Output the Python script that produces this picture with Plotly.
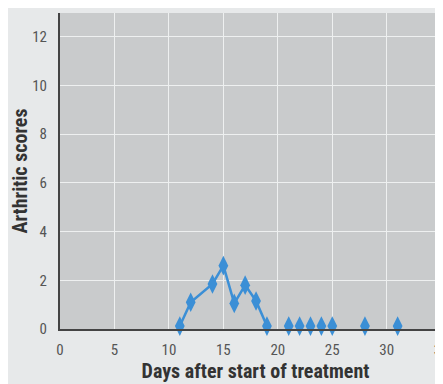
import plotly.graph_objects as go

# Data
days_line = [11, 12, 14, 15, 16, 17, 18, 19]
scores_line = [0.12, 1.1, 1.85, 2.6, 1.05, 1.8, 1.15, 0.12]
days_pts = [21, 22, 23, 24, 25, 28, 31]
scores_pts = [0.12, 0.12, 0.12, 0.12, 0.12, 0.12, 0.12]
y_ticks = [0, 2, 4, 6, 8, 10, 12]
x_ticks = [0, 5, 10, 15, 20, 25, 30, 35]

# page body has an 8px margin; the plot runs off the right edge of the window
W, H = 443, 376
ML, MR, MT, MB = 52, 0, 5, 55

blue = "#3b8fd6"
font_fam = "Liberation Sans Narrow, Roboto Condensed, DejaVu Sans Condensed, Arial Narrow, sans-serif"

fig = go.Figure()
fig.add_trace(go.Scatter(
    x=days_line, y=scores_line, mode="lines+markers",
    line=dict(color=blue, width=2.5),
    marker=dict(symbol="diamond-tall", size=14, color=blue),
    showlegend=False, cliponaxis=False,
))
fig.add_trace(go.Scatter(
    x=days_pts, y=scores_pts, mode="markers",
    marker=dict(symbol="diamond-tall", size=14, color=blue),
    showlegend=False, cliponaxis=False,
))

fig.update_layout(
    width=W, height=H,
    margin=dict(l=ML, r=MR, t=MT, b=MB),
    paper_bgcolor="#e7e9ea",
    plot_bgcolor="#c9cbcc",
    font=dict(family=font_fam, color="#555555", size=15),
    xaxis=dict(
        range=[0, 35.9], tickvals=x_ticks, ticktext=[str(v) for v in x_ticks],
        showgrid=True, gridcolor="#eef0f0", gridwidth=1,
        showline=True, linecolor="#444444", linewidth=2,
        zeroline=False, ticks="", ticklabelstandoff=6,
        title=dict(text="<b>Days after start of treatment</b>",
                   font=dict(family=font_fam, size=20, color="#333333"),
                   standoff=6),
    ),
    yaxis=dict(
        range=[0, 12.97], tickvals=y_ticks, ticktext=[str(v) for v in y_ticks],
        showgrid=True, gridcolor="#eef0f0", gridwidth=1,
        showline=True, linecolor="#444444", linewidth=2,
        zeroline=False, ticks="", ticklabelstandoff=8,
        title=dict(text="<b>Arthritic scores</b>",
                   font=dict(family=font_fam, size=20, color="#333333"),
                   standoff=8),
    ),
)

fig.write_html("out.html")
